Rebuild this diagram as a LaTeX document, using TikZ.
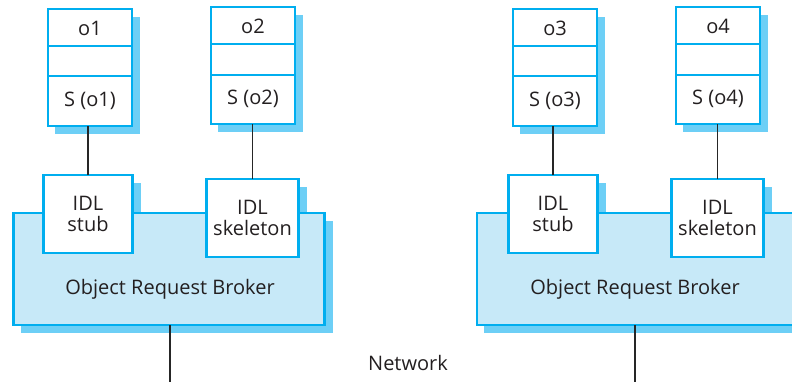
\documentclass[tikz,border=0pt]{standalone}
\usepackage{fontspec}
\setmainfont{Open Sans}
\usetikzlibrary{backgrounds}
\definecolor{boxline}{HTML}{00AEEF}
\definecolor{boxshadow}{HTML}{6DCFF6}
\definecolor{orbfill}{HTML}{C7E9F8}
\definecolor{textpri}{HTML}{231F20}
\tikzset{
  objbox/.style={draw=boxline, fill=white, line width=2.6pt, outer sep=0,
                 minimum width=84pt, minimum height=117pt, inner sep=0},
  idlbox/.style={draw=boxline, fill=white, line width=2.6pt, outer sep=0,
                 minimum height=78pt, inner sep=0, align=center,
                 font=\fontsize{20}{21}\selectfont, text=textpri},
  orbbox/.style={draw=boxline, fill=orbfill, line width=2.6pt, outer sep=0,
                 minimum height=112pt, inner sep=0},
  ltext/.style={font=\fontsize{20}{22}\selectfont, text=textpri, inner sep=0},
  divider/.style={draw=boxline, line width=1.5pt},
  link/.style={draw=black!85, line width=1.1pt},
  shadowfill/.style={fill=boxshadow},
}

\begin{document}
\begin{tikzpicture}[x=1pt, y=-1pt]
      \useasboundingbox (0,0) rectangle (792,382);

      % --- objects ---
      \node[objbox] (o1) at (90,67.5)  {};
      \node[objbox] (o2) at (253,65.5) {};
      \node[objbox] (o3) at (555,67.5) {};
      \node[objbox] (o4) at (718,65.5) {};
      \draw[divider] ([shift={(0,37)}]o1.north west) -- ([shift={(0,37)}]o1.north east);
      \draw[divider] ([shift={(0,67)}]o1.north west) -- ([shift={(0,67)}]o1.north east);
      \draw[divider] ([shift={(0,37)}]o2.north west) -- ([shift={(0,37)}]o2.north east);
      \draw[divider] ([shift={(0,68)}]o2.north west) -- ([shift={(0,68)}]o2.north east);
      \draw[divider] ([shift={(0,37)}]o3.north west) -- ([shift={(0,37)}]o3.north east);
      \draw[divider] ([shift={(0,67)}]o3.north west) -- ([shift={(0,67)}]o3.north east);
      \draw[divider] ([shift={(0,37)}]o4.north west) -- ([shift={(0,37)}]o4.north east);
      \draw[divider] ([shift={(0,68)}]o4.north west) -- ([shift={(0,68)}]o4.north east);
      \node[ltext] (o1name) at (90,28)   {o1};
      \node[ltext] (o1serv) at (90,101)  {S (o1)};
      \node[ltext] (o2name) at (253,26)  {o2};
      \node[ltext] (o2serv) at (253,99)  {S (o2)};
      \node[ltext] (o3name) at (555,28)  {o3};
      \node[ltext] (o3serv) at (555,101) {S (o3)};
      \node[ltext] (o4name) at (718,26)  {o4};
      \node[ltext] (o4serv) at (718,99)  {S (o4)};

      % --- left broker ---
      \node[orbbox, minimum width=311pt] (orb1) at (169,269) {};
      \node[ltext] (orb1text) at (170,289) {Object Request Broker};
      \node[idlbox, minimum width=89pt] (stub1) at (88,214)    {IDL\\stub};
      \node[idlbox, minimum width=92pt] (skel1) at (252.5,218) {IDL\\skeleton};

      % --- right broker ---
      \node[orbbox, minimum width=323pt] (orb2) at (638.5,269) {};
      \node[ltext] (orb2text) at (635,289) {Object Request Broker};
      \node[idlbox, minimum width=89pt] (stub2) at (553,214)   {IDL\\stub};
      \node[idlbox, minimum width=92pt] (skel2) at (717.5,218) {IDL\\skeleton};

      % --- shadows ---
      \begin{scope}[on background layer]
        \foreach \n in {o1,o2,o3,o4,stub1,skel1,orb1,stub2,skel2,orb2}
          \fill[shadowfill] ([shift={(7,8)}]\n.north west) rectangle ([shift={(8,8)}]\n.south east);
      \end{scope}

      % --- links ---
      \draw[link] (stub1.north) -- (stub1.north |- o1.south);
      \draw[link] (skel1.north) -- (skel1.north |- o2.south);
      \draw[link] (stub2.north) -- (stub2.north |- o3.south);
      \draw[link] (skel2.north) -- (skel2.north |- o4.south);
      \coordinate (net1) at (170,382);
      \coordinate (net2) at (635,382);
      \draw[link] (orb1.south -| net1) -- (net1);
      \draw[link] (orb2.south -| net2) -- (net2);
      \node[ltext] (network) at (408,363) {Network};
\end{tikzpicture}
\end{document}
